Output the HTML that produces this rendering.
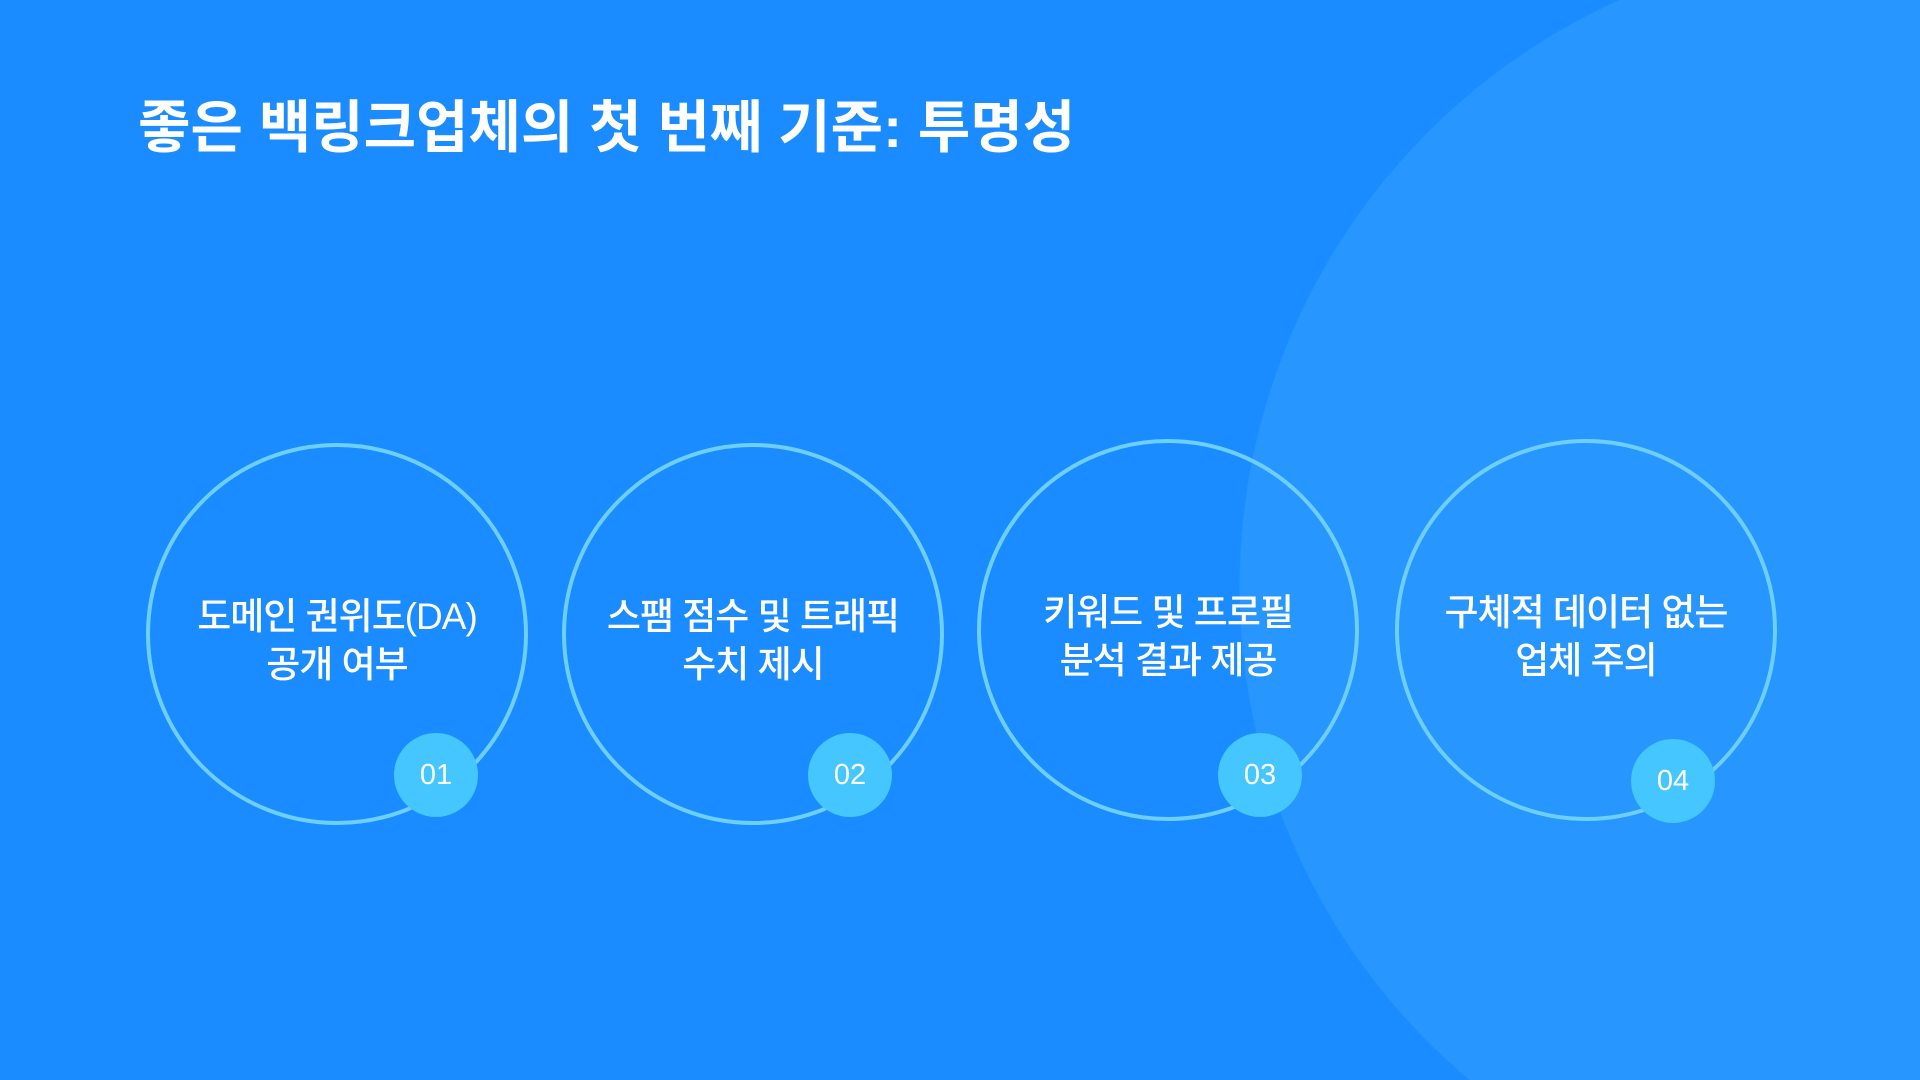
<!DOCTYPE html>
<html><head><meta charset="utf-8"><style>
html,body{margin:0;padding:0;width:1920px;height:1080px;overflow:hidden}
#w{position:relative;width:1920px;height:1080px;overflow:hidden;background:radial-gradient(circle 644px at 1883px 587px,#2896ff 99.8%,#1a8cff 100%);font-family:"Liberation Sans","Noto Sans CJK KR",sans-serif;color:#fff}
h1{position:absolute;left:138px;top:92px;margin:0;font-size:57px;font-weight:700;letter-spacing:0;line-height:72px}
.c{position:absolute;width:374px;height:360px;padding-top:14px;border:4px solid #6ccfff;border-radius:50%;display:flex;align-items:center;justify-content:center;text-align:center;font-size:37px;line-height:48px;letter-spacing:-1px;font-weight:500}
.b{position:absolute;width:84px;height:84px;border-radius:50%;background:#45c6ff;display:flex;align-items:center;justify-content:center;font-size:29px;font-weight:300;color:#fff}
</style></head><body><div id="w">
<h1>좋은 백링크업체의 첫 번째 기준: 투명성</h1>
<div class="c" style="left:146px;top:443px">도메인 권위도(DA)<br>공개 여부</div>
<div class="c" style="left:562px;top:443px">스팸 점수 및 트래픽<br>수치 제시</div>
<div class="c" style="left:977px;top:439px">키워드 및 프로필<br>분석 결과 제공</div>
<div class="c" style="left:1395px;top:439px">구체적 데이터 없는<br>업체 주의</div>
<div class="b" style="left:394px;top:733px">01</div>
<div class="b" style="left:808px;top:733px">02</div>
<div class="b" style="left:1218px;top:733px">03</div>
<div class="b" style="left:1631px;top:739px">04</div>
</div></body></html>
